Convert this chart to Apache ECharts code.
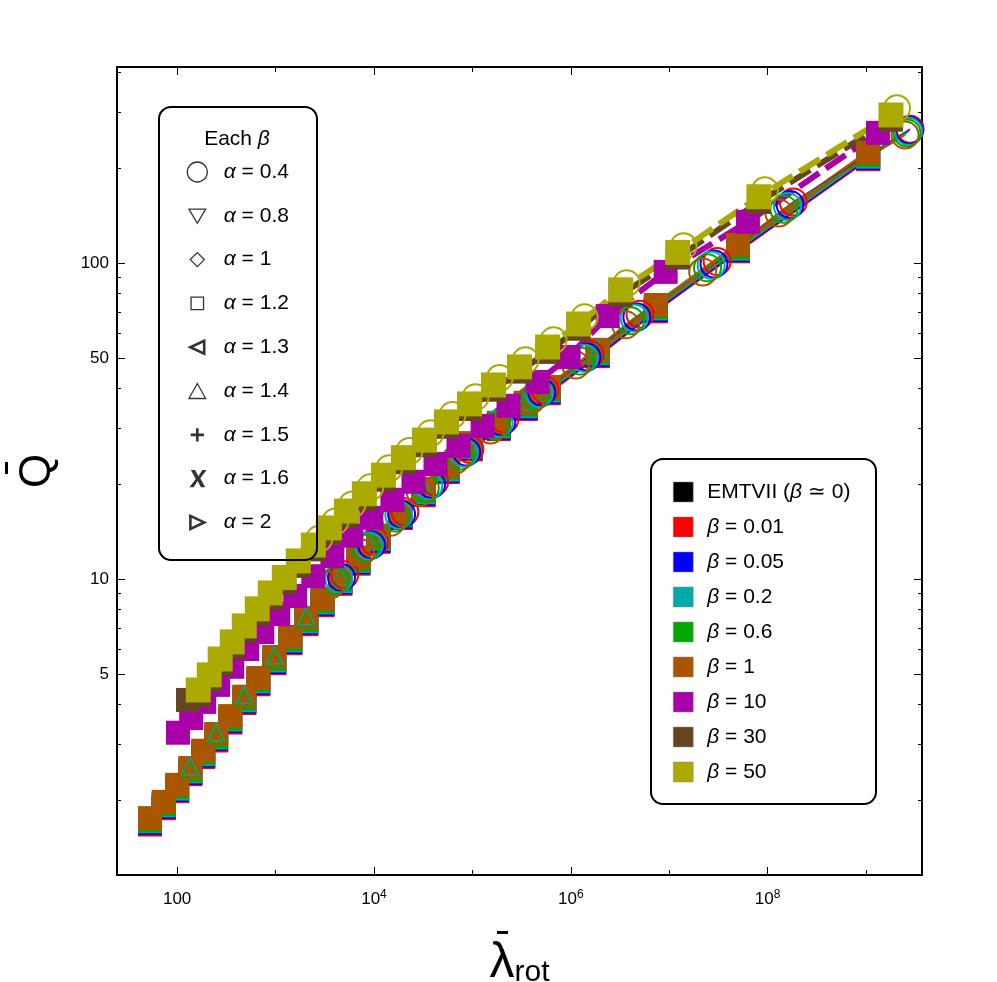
<!DOCTYPE html>
<html><head><meta charset="utf-8">
<script src="https://cdn.jsdelivr.net/npm/echarts@6/dist/echarts.min.js"></script>
<style>html,body{margin:0;padding:0;background:#fff}#c{width:997px;height:982px}</style>
</head><body><div id="c"></div>
<script>
const FONT = '"Liberation Sans", Arial, sans-serif';
// axis ranges and ticks
const X_RANGE = [24.5, 3.7e9];
const Y_RANGE = [1.156, 417];
const X_MAJOR = [100, 1e4, 1e6, 1e8];
const X_MINOR = [1e3, 1e5, 1e7, 1e9];
const Y_MAJOR = [5, 10, 50, 100];
const Y_MINOR = [2, 3, 4, 6, 7, 8, 9, 20, 30, 40, 60, 70, 80, 90, 200, 300, 400];

// legend texts
const ALPHA_LABELS = ['α = 0.4', 'α = 0.8', 'α = 1', 'α = 1.2', 'α = 1.3', 'α = 1.4', 'α = 1.5', 'α = 1.6', 'α = 2'];
const BETA_LABELS = ['EMTVII (β ≃ 0)', 'β = 0.01', 'β = 0.05', 'β = 0.2', 'β = 0.6', 'β = 1', 'β = 10', 'β = 30', 'β = 50'];
const BETA_COLORS = ['#000000', '#ff0000', '#0000ff', '#00aaaa', '#00aa00', '#aa5500', '#aa00aa', '#664422', '#aaaa00'];

// low-beta groups (squares): shared lambda grid
const LAM_LOW = [53, 73, 100, 136, 184, 249, 346, 481, 667, 970, 1410, 2050, 2990, 4550, 6940, 11100, 18600, 31800, 55900, 95700, 185000, 347000, 594000, 1.88e6, 7.3e6, 5.0e7, 1.05e9];
const Q_EMT  = [1.68, 1.89, 2.14, 2.42, 2.75, 3.10, 3.53, 4.07, 4.67, 5.43, 6.29, 7.23, 8.30, 9.70, 11.2, 13.2, 15.6, 18.5, 21.9, 25.8, 30.0, 34.7, 38.9, 51.0, 70.7, 109, 214];
const Q_B001 = [1.67, 1.88, 2.13, 2.41, 2.73, 3.08, 3.51, 4.05, 4.64, 5.41, 6.26, 7.19, 8.26, 9.65, 11.2, 13.1, 15.6, 18.4, 21.8, 25.7, 29.8, 34.5, 38.7, 50.7, 70.3, 109, 213];
const Q_B005 = [1.69, 1.90, 2.15, 2.43, 2.76, 3.12, 3.55, 4.09, 4.69, 5.46, 6.32, 7.27, 8.35, 9.75, 11.3, 13.2, 15.7, 18.6, 22.0, 26.0, 30.1, 34.8, 39.1, 51.2, 71.0, 110, 215];
const Q_B02  = [1.71, 1.92, 2.17, 2.46, 2.79, 3.15, 3.59, 4.13, 4.74, 5.52, 6.39, 7.34, 8.43, 9.85, 11.4, 13.4, 15.9, 18.8, 22.2, 26.2, 30.4, 35.2, 39.5, 51.8, 71.8, 111, 217];
const Q_B06  = [1.72, 1.94, 2.20, 2.48, 2.82, 3.18, 3.62, 4.18, 4.79, 5.58, 6.45, 7.42, 8.52, 9.95, 11.5, 13.5, 16.1, 19.0, 22.5, 26.5, 30.7, 35.6, 39.9, 52.3, 72.5, 112, 220];
const Q_B1   = [1.75, 1.97, 2.23, 2.52, 2.86, 3.23, 3.68, 4.24, 4.86, 5.66, 6.55, 7.53, 8.65, 10.1, 11.7, 13.7, 16.3, 19.3, 22.8, 26.9, 31.2, 36.1, 40.5, 53.1, 73.6, 114, 223];

// low-beta groups, alpha = 1.4 (open triangles drawn over the band)
const LAM_TRI = [136, 249, 481, 970, 2050, 4550, 11100, 31800, 95700, 347000, 594000, 1.88e6];
const Q_B06_T = [2.50, 3.20, 4.20, 5.61, 7.46, 10.0, 13.6, 19.1, 26.7, 35.8, 40.2, 52.7];
const Q_B02_T = [2.55, 3.27, 4.29, 5.73, 7.62, 10.2, 13.9, 19.5, 27.2, 36.5, 41.0, 53.7];

// low-beta groups, alpha = 0.4 (open circles)
const LAM_B001_C = [5040, 10200, 20600, 41400, 94200, 214000, 546000, 1.57e6, 5.05e6, 3.07e7, 1.82e8, 2.80e9];
const Q_B001_C   = [10.3, 13.1, 16.3, 20.3, 25.7, 32.0, 39.7, 51.3, 68.8, 101, 156, 265];
const LAM_B005_C = [4680, 9460, 19100, 38500, 87500, 199000, 507000, 1.46e6, 4.69e6, 2.85e7, 1.69e8, 2.75e9];
const Q_B005_C   = [10.1, 12.8, 16.0, 19.9, 25.2, 31.4, 39.0, 50.4, 67.5, 99.3, 153, 263];
const LAM_B02_C  = [4390, 8880, 17900, 36100, 82100, 187000, 476000, 1.37e6, 4.40e6, 2.67e7, 1.59e8, 2.70e9];
const Q_B02_C    = [10.0, 12.7, 15.9, 19.7, 25.0, 31.1, 38.6, 49.9, 66.9, 98.4, 151, 261];
const LAM_B06_C  = [4030, 8150, 16500, 33200, 75400, 171000, 437000, 1.25e6, 4.04e6, 2.45e7, 1.46e8, 2.60e9];
const Q_B06_C    = [9.86, 12.5, 15.6, 19.4, 24.5, 30.5, 37.9, 48.9, 65.6, 96.5, 148, 258];
const LAM_B1_C   = [3600, 7280, 14700, 29600, 67300, 153000, 390000, 1.12e6, 3.61e6, 2.19e7, 1.30e8, 2.49e9];
const Q_B1_C     = [9.57, 12.1, 15.1, 18.8, 23.8, 29.6, 36.8, 47.5, 63.7, 93.7, 144, 254];

// high-beta groups
const LAM_B10 = [102, 139, 188, 261, 363, 516, 733, 1065, 1585, 2420, 3780, 5890, 9410, 15400, 25200, 42200, 72300, 127000, 233000, 459000, 950000, 2.37e6, 9.2e6, 6.3e7, 1.32e9];
const Q_B10   = [3.26, 3.63, 4.08, 4.62, 5.27, 6.00, 6.79, 7.74, 8.83, 10.2, 11.8, 13.7, 15.6, 17.8, 20.3, 23.1, 26.4, 30.5, 35.3, 42.0, 50.4, 67.9, 93.7, 135, 258];
const LAM_B30 = [129, 164, 212, 274, 363, 481, 652, 883, 1227, 1702, 2420, 3520, 5240, 7980, 12470, 19910, 32580, 54550, 93500, 164000, 301000, 581000, 1.20e6, 3.21e6, 1.22e7, 8.15e7, 1.79e9];
const Q_B30   = [4.14, 4.29, 4.80, 5.38, 6.10, 6.85, 7.76, 8.71, 9.75, 11.0, 12.4, 14.0, 15.8, 17.9, 20.6, 23.4, 26.5, 30.3, 34.5, 39.7, 45.3, 52.3, 61.9, 79.3, 104, 156, 284];
const LAM_B50 = [164, 212, 274, 363, 481, 652, 883, 1227, 1702, 2420, 3520, 5240, 7980, 12470, 19910, 32580, 54550, 93500, 164000, 301000, 581000, 1.20e6, 3.21e6, 1.22e7, 8.15e7, 1.79e9];
const Q_B50   = [4.45, 4.97, 5.58, 6.32, 7.10, 8.04, 9.03, 10.1, 11.4, 12.8, 14.5, 16.4, 18.6, 21.3, 24.2, 27.5, 31.4, 35.8, 41.1, 46.9, 54.2, 64.1, 82.2, 108, 162, 294];
const LAM_B50_C = [2780, 4050, 6030, 9180, 14300, 22900, 37500, 62700, 107500, 189000, 346000, 668000, 1.38e6, 3.69e6, 1.40e7, 9.37e7, 2.06e9];
const Q_B50_C   = [13.4, 15.2, 17.2, 19.5, 22.4, 25.4, 28.9, 33.0, 37.6, 43.2, 49.2, 56.9, 67.3, 86.3, 113, 170, 309];

// legend marker icons for alpha
const ALPHA_ICONS = [
  'circle',
  'path://M-1,-1M11,11M0,1L10,1L5,9.5Z',
  'path://M-1,-1M11,11M5,0.8L9.2,5L5,9.2L0.8,5Z',
  'path://M-3,-3M13,13M0,0H10V10H0Z',
  'path://M-1.5,-1.5M11.5,11.5M0.5,5L9.5,0.8L9.5,9.2Z',
  'path://M-1,-1M11,11M5,0.5L10,9.5L0,9.5Z',
  'path://M-2.5,-2.5M12.5,12.5M4,0H6V4H10V6H6V10H4V6H0V4H4Z',
  'path://M-2,-1M13,13M1,0L4,0L6.3,4.3L9,0L12,0L7.6,5.8L11,12L8,12L5.7,7.7L3,12L0,12L4.4,6.2Z',
  'path://M-1.5,-1.5M11.5,11.5M0.5,0.8L9.5,5L0.5,9.2Z'
];

function pts(l, q) { return l.map((v, i) => [v, q[i]]); }

const series = [];
// alpha dummy series for the marker key
ALPHA_LABELS.forEach(n => series.push({ type: 'scatter', name: n, data: [], xAxisIndex: 0, yAxisIndex: 0 }));

const lowQ = [Q_EMT, Q_B001, Q_B005, Q_B02, Q_B06, Q_B1];
lowQ.forEach((q, g) => {
  const c = BETA_COLORS[g];
  series.push({
    type: 'line', name: BETA_LABELS[g], data: pts(LAM_LOW, q),
    symbol: 'rect', symbolSize: 24, showSymbol: true,
    itemStyle: { color: c }, lineStyle: { color: c, width: g === 5 ? 5 : 2.5 },
    z: 2
  });
});
// open triangles of the low-beta groups over the band
[[Q_B02_T, 3], [Q_B06_T, 4]].forEach(([q, g]) => {
  const c = BETA_COLORS[g];
  series.push({
    type: 'scatter', name: BETA_LABELS[g], data: pts(LAM_TRI, q),
    symbol: 'triangle', symbolSize: 17,
    itemStyle: { color: 'rgba(0,0,0,0)', borderColor: c, borderWidth: 1.5 }, z: 2
  });
});
const lowC = [[LAM_B001_C, Q_B001_C, 1], [LAM_B005_C, Q_B005_C, 2], [LAM_B02_C, Q_B02_C, 3], [LAM_B06_C, Q_B06_C, 4], [LAM_B1_C, Q_B1_C, 5]];
lowC.forEach(([l, q, g]) => {
  const c = BETA_COLORS[g];
  series.push({
    type: 'line', name: BETA_LABELS[g], data: pts(l, q),
    symbol: 'circle', symbolSize: 27,
    itemStyle: { color: 'rgba(0,0,0,0)', borderColor: c, borderWidth: 2 },
    lineStyle: { color: c, width: 1.5 }, z: 2
  });
});
series.push({
  type: 'line', name: BETA_LABELS[6], data: pts(LAM_B10, Q_B10),
  symbol: 'rect', symbolSize: 24,
  itemStyle: { color: BETA_COLORS[6] }, lineStyle: { color: BETA_COLORS[6], width: 6, type: [24, 8] }, z: 2
});
series.push({
  type: 'line', name: BETA_LABELS[7], data: pts(LAM_B30, Q_B30),
  symbol: 'rect', symbolSize: 24,
  itemStyle: { color: BETA_COLORS[7] }, lineStyle: { color: BETA_COLORS[7], width: 6, type: [24, 8] }, z: 2
});
series.push({
  type: 'line', name: BETA_LABELS[8], data: pts(LAM_B50, Q_B50),
  symbol: 'rect', symbolSize: 25,
  itemStyle: { color: BETA_COLORS[8] }, lineStyle: { color: BETA_COLORS[8], width: 6, type: [24, 8] }, z: 2
});
series.push({
  type: 'line', name: BETA_LABELS[8], data: pts(LAM_B50_C, Q_B50_C),
  symbol: 'circle', symbolSize: 26,
  itemStyle: { color: 'rgba(0,0,0,0)', borderColor: BETA_COLORS[8], borderWidth: 2 },
  lineStyle: { width: 0, opacity: 0 }, z: 2
});

function logAxis(pos, range, ticks, len, showLine, labels, fmt, extra) {
  return Object.assign({
    type: 'log', logBase: 10, position: pos, min: range[0], max: range[1],
    axisLine: { show: showLine, onZero: false, lineStyle: { color: '#000', width: 2 } },
    axisTick: { show: true, inside: true, length: len, customValues: ticks, lineStyle: { color: '#000', width: 1 } },
    axisLabel: labels ? { show: true, customValues: ticks, formatter: fmt, color: '#000', fontSize: 17, fontFamily: FONT } : { show: false },
    splitLine: { show: false }, minorTick: { show: false }
  }, extra || {});
}

const xFmt = v => {
  const e = Math.round(Math.log10(v));
  return e === 2 ? '{b|100}' : '{b|10}{s|' + e + '}';
};
const xRich = { b: { fontSize: 17, fontFamily: FONT, color: '#000', lineHeight: 20 }, s: { fontSize: 12, fontFamily: FONT, color: '#000', verticalAlign: 'top', lineHeight: 13 } };

const xAxes = [
  logAxis('bottom', X_RANGE, X_MAJOR, 8, true, true, xFmt, {
    name: '{l|λ}{r|rot}', nameLocation: 'middle', nameGap: 63,
    nameTextStyle: { rich: { l: { fontSize: 50, fontFamily: FONT, color: '#000' }, r: { fontSize: 30, fontFamily: FONT, color: '#000', verticalAlign: 'bottom' } } }
  }),
  logAxis('bottom', X_RANGE, X_MINOR, 5, false, false),
  logAxis('top', X_RANGE, X_MAJOR, 8, true, false),
  logAxis('top', X_RANGE, X_MINOR, 5, false, false)
];
xAxes[0].axisLabel.margin = 14;
xAxes[0].axisLabel.rich = xRich;

const yAxes = [
  logAxis('left', Y_RANGE, Y_MAJOR, 8, true, true, v => String(v), {
    name: 'Q', nameLocation: 'middle', nameGap: 57, nameRotate: 90,
    nameTextStyle: { fontSize: 44, fontFamily: FONT, color: '#000' }
  }),
  logAxis('left', Y_RANGE, Y_MINOR, 4, false, false),
  logAxis('right', Y_RANGE, Y_MAJOR, 8, true, false),
  logAxis('right', Y_RANGE, Y_MINOR, 4, false, false)
];
yAxes[0].axisLabel.margin = 8;

const alphaLegendData = ALPHA_LABELS.map((n, i) => {
  const filled = (i === 6 || i === 7);
  const bold = (i === 4 || i === 8);
  return { name: n, icon: ALPHA_ICONS[i], itemStyle: filled ? { color: '#000', borderWidth: 0 } : { color: '#fff', borderColor: '#000', borderWidth: bold ? 2.6 : 1.3 } };
});
const betaLegendData = BETA_LABELS.map((n, i) => ({ name: n, icon: 'rect', itemStyle: { color: BETA_COLORS[i], borderColor: '#888', borderWidth: 0.5 } }));

const greekFmt = n => n.replace(/([αβ])/g, '{i|$1}');
const legRich = { i: { fontStyle: 'italic', fontSize: 21, fontFamily: FONT, color: '#000', lineHeight: 24 } };

const option = {
  animation: false,
  backgroundColor: '#fff',
  textStyle: { fontFamily: FONT },
  grid: { left: 117, right: 75, top: 67, bottom: 107, containLabel: false, outerBoundsMode: 'none' },
  xAxis: xAxes,
  yAxis: yAxes,
  legend: [
    {
      orient: 'vertical', left: 181, top: 155, itemWidth: 43, itemHeight: 20, itemGap: 19.8,
      data: alphaLegendData, selectedMode: false, formatter: greekFmt,
      textStyle: { fontSize: 21, fontFamily: FONT, color: '#000', lineHeight: 24, rich: legRich }
    },
    {
      orient: 'vertical', left: 668, top: 475, itemWidth: 20, itemHeight: 20, itemGap: 11,
      data: betaLegendData, selectedMode: false, formatter: greekFmt,
      textStyle: { fontSize: 21, fontFamily: FONT, color: '#000', lineHeight: 24, padding: [0, 0, 0, 9], rich: legRich }
    }
  ],
  graphic: [
    { type: 'rect', z: 100, shape: { x: 159, y: 107, width: 158, height: 453, r: 12 }, style: { fill: 'none', stroke: '#000', lineWidth: 2 } },
    { type: 'rect', z: 100, shape: { x: 651, y: 459, width: 225, height: 345, r: 12 }, style: { fill: 'none', stroke: '#000', lineWidth: 2 } },
    { type: 'text', z: 100, x: 237, y: 139, style: { text: 'Each {i|β}', fill: '#000', font: '21px ' + FONT, align: 'center', verticalAlign: 'middle', rich: legRich } },
    // macron bars over the axis-title symbols
    { type: 'rect', z: 100, shape: { x: 497, y: 931, width: 11, height: 3 }, style: { fill: '#000' } },
    { type: 'rect', z: 100, shape: { x: 5, y: 462, width: 3, height: 12 }, style: { fill: '#000' } }
  ],
  series: series
};

const chart = echarts.init(document.getElementById('c'));
chart.setOption(option);
</script>
</body></html>
